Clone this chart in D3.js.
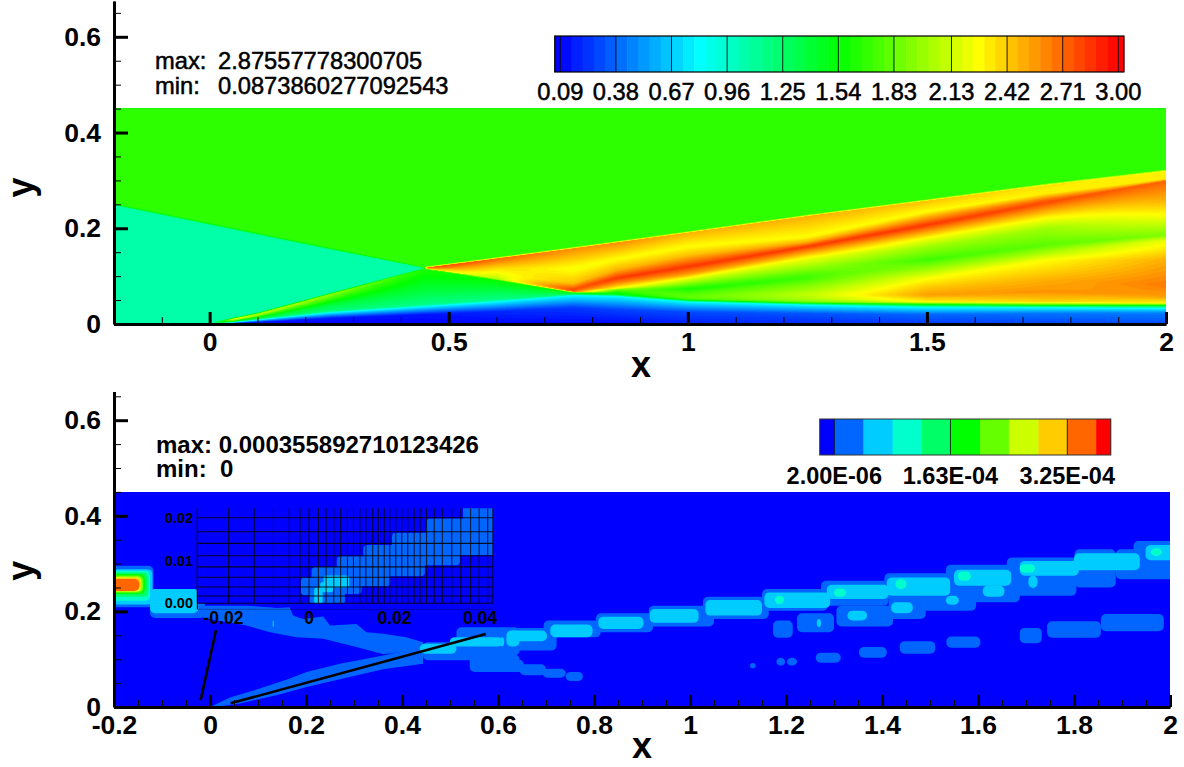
<!DOCTYPE html>
<html><head><meta charset="utf-8">
<script src="https://cdn.jsdelivr.net/npm/d3@7/dist/d3.min.js"></script>
<style>
html,body{margin:0;padding:0;background:#fff;overflow:hidden}
svg{display:block}
text{font-family:"Liberation Sans",Arial,sans-serif;fill:#000}
.num{font-size:23.7px;stroke:#000;stroke-width:.5px}
.big{font-size:24px;font-weight:700}
.ttl{font-size:36px;font-weight:700}
.axis path,.axis line{stroke:#000}
.axis text{font-family:"Liberation Sans",Arial,sans-serif;font-size:26.5px;font-weight:700;fill:#000}
</style></head><body><div id="c"></div>
<script>
// ---------- top panel: field ----------
const stationX=[-0.2,0,0.05,0.1,0.25,0.4499,0.45,0.6,0.76,0.85,1,1.25,1.5,1.75,2];
// heights of the flow layers (wall ... outer edge) at each station
const layerY=[
[0,.0001,.0002,.0003,.0004,.0005,.0006,.002,.05,.08,.1,.12,.14,.16,.18,.2,.22,.248,.252,.45],
[0,.0001,.0002,.0003,.0004,.0005,.0006,.002,.04,.06,.08,.1,.12,.14,.16,.18,.19,.207,.211,.45],
[0,.002,.004,.005,.007,.0095,.0105,.0125,.05,.07,.09,.11,.13,.15,.165,.18,.19,.1968,.2008,.45],
[0,.004,.009,.0105,.014,.019,.021,.023,.05,.07,.09,.11,.13,.145,.16,.17,.178,.1865,.1905,.45],
[0,.012,.024,.027,.04,.0585,.0615,.0635,.075,.085,.095,.105,.115,.125,.135,.143,.15,.1558,.1598,.45],
[0,.02,.037,.04,.07,.1145,.116,.1162,.1163,.1164,.1165,.1166,.1167,.1168,.1169,.117,.1171,.1172,.1185,.45],
[0,.02,.037,.04,.07,.1145,.116,.1162,.1163,.1164,.1165,.1166,.1167,.1168,.1169,.117,.1171,.1172,.1185,.45],
[0,.026,.047,.05,.07,.0915,.0945,.095,.0955,.096,.0965,.097,.0975,.098,.0985,.105,.118,.1365,.1385,.45],
[0,.034,.06,.062,.064,.066,.068,.0685,.0692,.07,.0708,.0716,.0724,.0732,.074,.085,.115,.1578,.1598,.45],
[0,.03,.0585,.06,.062,.064,.0675,.069,.0705,.072,.0735,.0746,.08,.087,.0955,.112,.135,.17,.172,.45],
[0,.025,.0466,.0485,.05,.052,.0557,.0606,.068,.0728,.079,.0855,.096,.104,.1197,.144,.1615,.1908,.1928,.45],
[0,.022,.04,.042,.044,.046,.05,.0606,.0815,.096,.1024,.1197,.1379,.148,.162,.171,.182,.2255,.2275,.45],
[0,.02,.0349,.038,.0418,.044,.0466,.0606,.078,.0961,.117,.1337,.1615,.179,.2068,.2242,.2346,.2577,.2597,.45],
[0,.022,.0345,.037,.0397,.0425,.047,.0675,.0919,.1337,.151,.165,.2,.2214,.254,.2595,.273,.2905,.2925,.45],
[0,.023,.0328,.0365,.0397,.042,.0439,.057,.0815,.1337,.1755,.186,.2277,.259,.2995,.3005,.3029,.3197,.3217,.45]];
// field value on those layers at each station
const layerV=[
[1.06,1.06,1.06,1.06,1.06,1.06,1.06,1.06,1.06,1.06,1.06,1.06,1.06,1.06,1.06,1.06,1.06,1.06,1.69,1.69],
[1.06,1.06,1.06,1.06,1.06,1.06,1.06,1.06,1.06,1.06,1.06,1.06,1.06,1.06,1.06,1.06,1.06,1.06,1.69,1.69],
[.09,.15,.82,1.3,1.6,2.2,2.4,1.06,1.06,1.06,1.06,1.06,1.06,1.06,1.06,1.06,1.06,1.06,1.69,1.69],
[.09,.15,.82,1.25,1.5,2.05,2.1,1.06,1.06,1.06,1.06,1.06,1.06,1.06,1.06,1.06,1.06,1.06,1.69,1.69],
[.09,.14,.82,1.2,1.38,1.9,2,1.06,1.06,1.06,1.06,1.06,1.06,1.06,1.06,1.06,1.06,1.06,1.69,1.69],
[.09,.14,.82,1.15,1.38,1.62,1.65,1.06,1.06,1.06,1.06,1.06,1.06,1.06,1.06,1.06,1.06,1.06,1.69,1.69],
[.09,.14,.82,1.15,1.38,1.62,1.65,2.4,2.4,2.4,2.4,2.4,2.4,2.4,2.45,2.5,2.7,2.85,1.69,1.69],
[.1,.2,.82,1.15,1.35,1.55,2.08,2.1,2.1,2.1,2.1,2.1,2.1,2.1,2.12,2.22,2.4,2.72,1.69,1.69],
[.1,.25,.82,1.2,1.4,1.55,2.7,2.72,2.75,2.78,2.8,2.8,2.8,2.8,2.75,2.45,2.25,2.6,1.69,1.69],
[.1,.28,.82,1.2,1.45,1.55,1.6,1.7,1.8,1.9,2.05,2.25,2.45,2.65,2.85,2.5,2.27,2.6,1.69,1.69],
[.17,.3,.82,1.2,1.5,1.75,1.82,1.8,1.7,1.6,1.75,1.95,2.25,2.55,2.85,2.45,2.27,2.5,1.69,1.69],
[.2,.33,.82,1.2,1.55,1.85,2,2.1,1.9,1.72,1.75,2,2.25,2.5,2.85,2.5,2.27,2.5,1.69,1.69],
[.25,.38,.82,1.2,1.6,1.95,2.3,2.55,2.42,2.25,1.95,1.72,2,2.25,2.85,2.5,2.27,2.45,1.69,1.69],
[.28,.42,.82,1.2,1.6,2,2.4,2.58,2.5,2.27,2,1.8,2,2.27,2.8,2.7,2.3,2.35,1.69,1.69],
[.3,.45,.82,1.2,1.6,2,2.3,2.55,2.65,2.5,2.2,1.9,2.27,2.5,2.72,2.5,2.32,2.3,1.69,1.69]];
const topBarTicks=[0.09,0.38,0.67,0.96,1.25,1.54,1.83,2.13,2.42,2.71,3.00];
const topBarLabels=["0.09","0.38","0.67","0.96","1.25","1.54","1.83","2.13","2.42","2.71","3.00"];
const bandCount=51, bandStart=0.09, bandStep=0.0582;
const rainbowStops=[0.09,0.8175,1.545,2.2725,3.0];
const rainbowColors=["#0000ff","#00ffff","#00ff00","#ffff00","#ff0000"];
const topMaxText=["max:","2.87557778300705"], topMinText=["min:","0.0873860277092543"];
const topXMajor=[0,0.5,1,1.5,2], topXMinor=[-0.1,0.1,0.2,0.3,0.4,0.6,0.7,0.8,0.9,1.1,1.2,1.3,1.4,1.6,1.7,1.8,1.9];
const yMajor=[0,0.2,0.4,0.6], yMinor=[0.05,0.1,0.15,0.25,0.3,0.35,0.45,0.5,0.55,0.65];

// ---------- bottom panel: contour blobs [x0,x1,yTop,yBottom] ----------
const lowColors=["#0000ff","#0066ff","#00ccff","#00ffcc","#00ff66","#00ff00","#66ff00","#ccff00","#ffcc00","#ff6600","#ff0000"];
const lowBarTicks=[2e-6,1.63e-4,3.25e-4], lowBarLabels=["2.00E-06","1.63E-04","3.25E-04"];
const lowBarLevels=[2e-6,4.24e-5,8.28e-5,1.232e-4,1.63e-4,2.04e-4,2.44e-4,2.85e-4,3.25e-4,3.65e-4];
const lowXMajor=[-0.2,0,0.2,0.4,0.6,0.8,1,1.2,1.4,1.6,1.8,2];
const lowXMinor=[-0.15,-0.1,-0.05,0.05,0.1,0.15,0.25,0.3,0.35,0.45,0.5,0.55,0.65,0.7,0.75,0.85,0.9,0.95,1.05,1.1,1.15,1.25,1.3,1.35,1.45,1.5,1.55,1.65,1.7,1.75,1.85,1.9,1.95];
const bandIncident=[[-.014,.212],[.076,.212],[.125,.2086],[.139,.2072],[.166,.2086],[.173,.1913],[.194,.1843],[.236,.1892],[.25,.1704],[.305,.1739],[.326,.1566],[.361,.153],[.409,.1461],[.444,.1357],[.444,.1198],[.361,.1101],[.305,.1253],[.236,.1427],[.18,.1461],[.125,.1566],[.076,.1704],[-.014,.1864]];
const bandRamp=[[.0033,.0018],[.0415,.0198],[.097,.0365],[.1664,.0594],[.2011,.0733],[.2705,.0906],[.3607,.108],[.444,.1253],[.444,.0906],[.3607,.0788],[.2705,.058],[.2011,.042],[.1386,.0247],[.0623,.0073],[.0137,.0004]];
const blobs1=[[-.21,-.118,.2953,.2086],[-.125,-.0106,.2468,.1864],
[.444,.548,.1357,.0976],[.541,.645,.11,.0733],[.5134,.645,.1669,.108],
[.604,.722,.1655,.1183],[.695,.814,.1808,.1461],[.804,.923,.196,.1565],[.914,1.05,.212,.1683],[1.027,1.164,.2308,.1843],[1.15,1.287,.2467,.2016],[1.273,1.414,.264,.212],[1.405,1.542,.28,.226],[1.533,1.687,.2974,.219],[1.66,1.805,.3127,.2329],[1.801,1.887,.33,.25],[1.887,2.01,.33,.2675],[1.924,2.01,.3474,.285],
[1.223,1.3,.196,.1565],[1.305,1.423,.212,.1683],[1.414,1.491,.2308,.1843],[1.478,1.596,.257,.2016],[1.173,1.214,.1808,.1447],
[1.687,1.733,.1655,.1336],[1.744,1.856,.1794,.1447],[1.856,1.987,.1947,.1586],[1.534,1.605,.1475,.1239],[1.437,1.511,.1378,.1114],[1.352,1.41,.1253,.103],[1.262,1.314,.1135,.0927],[1.18,1.198,.103,.0864],[1.202,1.223,.103,.0864],[1.125,1.137,.092,.0809],
[.604,.654,.099,.0732],[.645,.7,.0892,.0663],[.693,.741,.0802,.0614],[.741,.777,.0732,.0545]];
const blobs2=[[-.21,-.12,.2884,.2142],[-.125,-.0245,.2468,.1961],[.1303,.1331,.1808,.1669],[.437,.5134,.1323,.1115],[.4995,.6106,.1461,.1267],[.6175,.645,.16,.1267],
[.604,.613,.146,.1267],[.622,.702,.16,.1377],[.709,.797,.1725,.146],[.809,.903,.189,.1634],[.916,1.018,.205,.176],[1.032,1.15,.2238,.1912],[1.155,1.292,.2398,.2072],[1.285,1.414,.2557,.226],[1.41,1.542,.271,.2328],[1.533,1.56,.233,.214],[1.55,1.669,.287,.2537],[1.61,1.655,.254,.2308],[1.687,1.81,.3057,.2745],[1.705,1.724,.275,.2488],[1.8,1.937,.3217,.2863],[1.949,2.01,.339,.307],[1.328,1.369,.2016,.1808],[1.419,1.464,.219,.196],[1.264,1.273,.1843,.167]];
const blobs3=[[-.21,-.125,.2849,.2225],[1.177,1.196,.2329,.2155],[1.3,1.325,.248,.2308],[1.428,1.451,.2675,.2467],[1.558,1.585,.2835,.264],[1.687,1.719,.2988,.2814],[1.96,1.983,.332,.316]];
const blobs4=[[-.21,-.1285,.2815,.2308]], blobs5=[[-.21,-.1355,.278,.2364]], blobs6=[[-.21,-.139,.2752,.2391]], blobs7=[[-.21,-.1424,.2724,.2412]], blobs8=[[-.21,-.1445,.2704,.244]], blobs9=[[-.21,-.1473,.2676,.2425]];
const leaderA=[[.0125,.161],[-.0194,.0146]], leaderB=[[.0431,.0077],[.5744,.1527]];
const lowMaxText="max: 0.000355892710123426", lowMinText="min:  0";
// inset
const insetVert=[-.0261,-.0188,-.0128,-.0083,-.0046,-.0021,0,.0022,.004,.0058,.0074,.009,.0104,.0119,.0133,.0149,.0162,.0176,.0189,.0203,.0217,.0231,.0246,.026,.0275,.0293,.0312,.0334,.0355,.0378,.0398,.0418,.043];
const insetHorz=[0,.0017,.0038,.0061,.0085,.0111,.014,.0167,.02];
const insetBlobs1=[[-.0019,.0049,.006,.0019],[0,.0084,.0038,-.0002],[.0006,.0123,.0085,.0022],[.0065,.019,.011,.004],[.0127,.0271,.0136,.0063],[.0194,.0353,.0165,.0089],[.0274,.044,.0198,.0112],[.036,.044,.0231,.0163]];
const insetBlobs2=[[.0012,.0032,.0037,-.0002],[.0034,.0094,.0065,.0037],[.0026,.0057,.005,.0026]];
const insetXTicks=[-0.02,0,0.02,0.04], insetXLabels=["-0.02","0","0.02","0.04"];
const insetYTicks=[0,0.01,0.02], insetYLabels=["0.00","0.01","0.02"];

// ---------- drawing ----------
const W=1184,H=767;
const svg=d3.select("#c").append("svg").attr("width",W).attr("height",H);
const defs=svg.append("defs");
const xT=d3.scaleLinear([-0.2,2],[114,1166]), yT=d3.scaleLinear([0,0.6],[324,36.8]);
const xB=d3.scaleLinear([-0.2,2],[114,1170]), yB=d3.scaleLinear([0,0.6],[707,420.2]);
const rainbow=d3.scaleLinear(rainbowStops,rainbowColors).interpolate(d3.interpolateRgb).clamp(true);
const bandEdges=d3.range(bandCount).map(k=>bandStart+k*bandStep);
const fieldEdges=d3.range(bandCount*2).map(k=>bandStart+k*bandStep/2);

// top field on a pixel grid, then d3.contours flood
const nx=Math.round(xT.range()[1]-xT.range()[0]), ny=Math.round(yT(0)-yT(0.45));
const dx=2.2/nx, dy=0.45/ny;
const nLayers=layerY[0].length;
const yAt=d3.range(nLayers).map(k=>d3.scaleLinear(stationX,layerY.map(r=>r[k])));
const vAt=d3.range(nLayers).map(k=>d3.scaleLinear(stationX,layerV.map(r=>r[k])));
const field=new Float64Array(nx*ny);
for(let i=0;i<nx;i++){
  const x=-0.2+(i+.5)*dx;
  const prof=d3.scaleLinear(yAt.map(f=>f(x)),vAt.map(f=>f(x))).clamp(true);
  for(let j=0;j<ny;j++) field[j*nx+i]=prof(0.45-(j+.5)*dy);
}
defs.append("clipPath").attr("id","clipT").append("rect").attr("x",xT(-0.2)).attr("y",yT(0.45)).attr("width",xT(2)-xT(-0.2)).attr("height",yT(0)-yT(0.45));
const gridPath=d3.geoPath(d3.geoTransform({point(a,b){this.stream.point(xT(-0.2+a*dx),yT(0.45-b*dy));}}));
const gT=svg.append("g").attr("clip-path","url(#clipT)");
gT.append("rect").attr("x",xT(-0.2)).attr("y",yT(0.45)).attr("width",xT(2)-xT(-0.2)).attr("height",yT(0)-yT(0.45)).attr("fill",rainbow(bandStart));
const cs=d3.contours().size([nx,ny]).thresholds(fieldEdges)(field);
gT.selectAll("path").data(cs).join("path").attr("d",gridPath).attr("fill",d=>rainbow(Math.min(3,d.value+bandStep/4)));

// bottom field
defs.append("clipPath").attr("id","clipB").append("rect").attr("x",xB(-0.2)).attr("y",yB(0.45)).attr("width",xB(2)-xB(-0.2)).attr("height",yB(0)-yB(0.45));
const gB=svg.append("g").attr("clip-path","url(#clipB)");
gB.append("rect").attr("x",xB(-0.2)).attr("y",yB(0.45)).attr("width",xB(2)-xB(-0.2)).attr("height",yB(0)-yB(0.45)).attr("fill",lowColors[0]);
function blobs(g,x,y,list,col,rx){
  g.append("g").selectAll("rect").data(list).join("rect")
   .attr("x",d=>x(d[0])).attr("width",d=>x(d[1])-x(d[0])).attr("y",d=>y(d[2])).attr("height",d=>y(d[3])-y(d[2]))
   .attr("rx",rx).attr("fill",col);
}
const areaB=d3.line().x(d=>xB(d[0])).y(d=>yB(d[1])).curve(d3.curveLinearClosed);
[bandIncident,bandRamp].forEach(b=>gB.append("path").attr("d",areaB(b)).attr("fill",lowColors[1]));
[blobs1,blobs2,blobs3,blobs4,blobs5,blobs6,blobs7,blobs8,blobs9].forEach((b,i)=>blobs(gB,xB,yB,b,lowColors[i+1],5));

// panel axes
function axes(x,y,xMaj,xMin,yTop,xFmt){
  const g=svg.append("g");
  const yDom=d3.scaleLinear([0,yTop],[y(0),y(yTop)]);
  g.append("g").attr("class","axis").attr("transform",`translate(${x(-0.2)},0)`)
   .call(d3.axisLeft(yDom).tickValues(yMinor.filter(v=>v<=yTop)).tickSize(-7).tickFormat("").tickSizeOuter(0))
   .call(s=>{s.select(".domain").attr("stroke-width",3);s.selectAll(".tick line").attr("stroke-width",1);});
  g.append("g").attr("class","axis").attr("transform",`translate(${x(-0.2)},0)`)
   .call(d3.axisLeft(yDom).tickValues(yMajor).tickSize(-14).tickPadding(13).tickSizeOuter(0).tickFormat(d=>d===0?"0":d3.format(".1f")(d)))
   .call(s=>{s.select(".domain").attr("stroke","none");s.selectAll(".tick line").attr("stroke-width",3);});
  g.append("g").attr("class","axis").attr("transform",`translate(0,${y(0)})`)
   .call(d3.axisBottom(x).tickValues(xMin).tickSize(-7).tickFormat("").tickSizeOuter(0))
   .call(s=>{s.select(".domain").attr("stroke-width",3);s.selectAll(".tick line").attr("stroke-width",1);});
  g.append("g").attr("class","axis").attr("transform",`translate(0,${y(0)})`)
   .call(d3.axisBottom(x).tickValues(xMaj).tickSize(-12).tickPadding(8).tickSizeOuter(0).tickFormat(xFmt))
   .call(s=>{s.select(".domain").attr("stroke","none");s.selectAll(".tick line").attr("stroke-width",3);});
}
axes(xT,yT,topXMajor,topXMinor,0.675,d=>String(d));
axes(xB,yB,lowXMajor,lowXMinor,0.66,d=>String(d));

// axis titles
svg.append("text").attr("class","ttl").attr("x",xT(0.902)).attr("y",377).attr("text-anchor","middle").text("x");
svg.append("text").attr("class","ttl").attr("x",xB(0.9)).attr("y",758).attr("text-anchor","middle").text("x");
svg.append("text").attr("class","ttl").attr("transform",`translate(33,${yT(0.285)}) rotate(-90)`).attr("text-anchor","middle").text("y");
svg.append("text").attr("class","ttl").attr("transform",`translate(33,${yB(0.285)}) rotate(-90)`).attr("text-anchor","middle").text("y");

// top annotations
svg.append("text").attr("class","num").attr("x",155).attr("y",69).text(topMaxText[0]);
svg.append("text").attr("class","num").attr("x",218).attr("y",69).text(topMaxText[1]);
svg.append("text").attr("class","num").attr("x",155).attr("y",94).text(topMinText[0]);
svg.append("text").attr("class","num").attr("x",218).attr("y",94).text(topMinText[1]);

// top colour bar
const barT=d3.scaleLinear([0.09,3.0],[560.3,1118.3]);
const tEdges=[bandStart-bandStep/2,...bandEdges,3.0+bandStep/2];
const gBar=svg.append("g");
gBar.selectAll("rect").data(d3.pairs(tEdges)).join("rect")
 .attr("x",d=>barT(d[0])).attr("width",d=>barT(d[1])-barT(d[0])+.5).attr("y",36).attr("height",36)
 .attr("fill",d=>rainbow((d[0]+d[1])/2));
gBar.selectAll("line").data(topBarTicks).join("line").attr("x1",d=>barT(d)).attr("x2",d=>barT(d)).attr("y1",36).attr("y2",72).attr("stroke","#000").attr("stroke-opacity",.85);
gBar.append("rect").attr("x",barT(tEdges[0])).attr("y",36).attr("width",barT(tEdges[tEdges.length-1])-barT(tEdges[0])).attr("height",36).attr("fill","none").attr("stroke","#000").attr("stroke-width",1.2);
gBar.selectAll("text").data(topBarTicks).join("text").attr("class","num").attr("x",d=>barT(d)).attr("y",100).attr("text-anchor","middle").text((d,i)=>topBarLabels[i]);

// inset
const xI=d3.scaleLinear([0,0.04],[309,480]), yI=d3.scaleLinear([0,0.02],[603.3,517.7]);
const gI=svg.append("g");
gI.append("rect").attr("x",xI(-.0261)).attr("y",yI(.0222)).attr("width",xI(.043)-xI(-.0261)).attr("height",yI(0)-yI(.0222)).attr("fill",lowColors[0]);
defs.append("clipPath").attr("id","clipI").append("rect").attr("x",xI(-.0261)).attr("y",yI(.0222)).attr("width",xI(.043)-xI(-.0261)).attr("height",yI(0)-yI(.0222));
const gIc=gI.append("g").attr("clip-path","url(#clipI)");
blobs(gIc,xI,yI,insetBlobs1,lowColors[1],4);
blobs(gIc,xI,yI,insetBlobs2,lowColors[2],3);
gI.append("g").selectAll("line").data(insetVert).join("line").attr("x1",d=>xI(d)).attr("x2",d=>xI(d)).attr("y1",yI(.0222)).attr("y2",yI(0)).attr("stroke","#000").attr("stroke-opacity",.75).attr("stroke-width",1.1);
gI.append("g").selectAll("line").data(insetHorz).join("line").attr("x1",xI(-.0261)).attr("x2",xI(.043)).attr("y1",d=>yI(d)).attr("y2",d=>yI(d)).attr("stroke","#000").attr("stroke-opacity",.85).attr("stroke-width",1.1);
gI.append("line").attr("x1",xI(-.0261)).attr("x2",xI(-.0261)).attr("y1",yI(.0222)).attr("y2",yI(-.0014)).attr("stroke","#000").attr("stroke-width",1.2);
gI.append("line").attr("x1",xI(-.0261)).attr("x2",xI(.043)).attr("y1",yI(-.0014)).attr("y2",yI(-.0014)).attr("stroke","#000").attr("stroke-opacity",.3);
gI.append("g").selectAll("text").data(insetXTicks).join("text").attr("x",d=>xI(d)).attr("y",624).attr("text-anchor","middle").attr("font-size",17.5).attr("font-weight",700).text((d,i)=>insetXLabels[i]);
gI.append("g").selectAll("text").data(insetYTicks).join("text").attr("x",193).attr("y",d=>yI(d)+5).attr("text-anchor","end").attr("font-size",14.5).attr("font-weight",700).text((d,i)=>insetYLabels[i]);

// leader lines
const lineB=d3.line().x(d=>xB(d[0])).y(d=>yB(d[1]));
[leaderA,leaderB].forEach(l=>svg.append("path").attr("d",lineB(l)).attr("stroke","#000").attr("stroke-width",2.6).attr("fill","none"));

// bottom annotations
svg.append("text").attr("class","big").attr("x",156).attr("y",453).style("font-size","24px").text(lowMaxText);
svg.append("text").attr("class","big").attr("x",156).attr("y",477).style("white-space","pre").text(lowMinText);

// bottom colour bar
const barB=d3.scaleLinear([2e-6,3.25e-4],[834.3,1067.3]);
const halfStep=(lowBarLevels[1]-lowBarLevels[0])/2;
const lEdges=[lowBarLevels[0]-halfStep,...lowBarLevels,lowBarLevels[lowBarLevels.length-1]+halfStep];
const gBar2=svg.append("g");
gBar2.selectAll("rect").data(d3.pairs(lEdges)).join("rect")
 .attr("x",d=>barB(d[0])).attr("width",d=>barB(d[1])-barB(d[0])+.4).attr("y",419).attr("height",36).attr("fill",(d,i)=>lowColors[i]);
gBar2.selectAll("line").data(lowBarTicks).join("line").attr("x1",d=>barB(d)).attr("x2",d=>barB(d)).attr("y1",419).attr("y2",455).attr("stroke","#000").attr("stroke-opacity",.8);
gBar2.append("rect").attr("x",barB(lEdges[0])).attr("y",419).attr("width",barB(lEdges[lEdges.length-1])-barB(lEdges[0])).attr("height",36).attr("fill","none").attr("stroke","#333").attr("stroke-width",1);
gBar2.selectAll("text").data(lowBarTicks).join("text").attr("class","big").attr("x",d=>barB(d)).attr("y",484).attr("text-anchor","middle").style("font-size","23.5px").text((d,i)=>lowBarLabels[i]);
</script></body></html>
